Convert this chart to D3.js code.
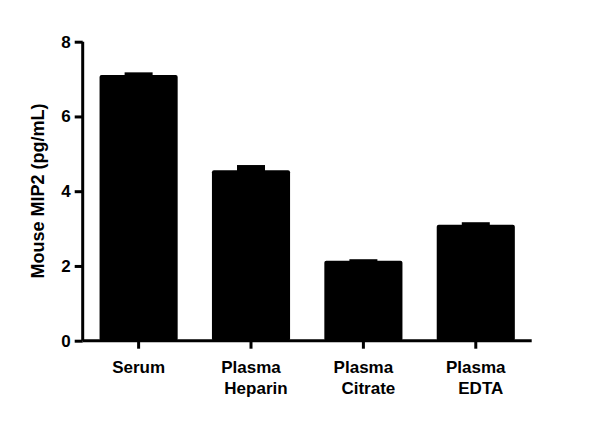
<!DOCTYPE html><html><head><script src="https://cdn.jsdelivr.net/npm/d3@7"></script>
<style>body{margin:0;background:#fff}</style></head><body><svg width="600" height="435"></svg>
<script>
const categories=[["Serum"],["Plasma","Heparin"],["Plasma","Citrate"],["Plasma","EDTA"]];
const values=[7.11,4.56,2.14,3.10];
const errors=[0.07,0.14,0.04,0.07];
const yTicks=[0,2,4,6,8];
const svg=d3.select("svg");
const x=d3.scaleBand().domain(d3.range(4)).range([82.7,531.7]).paddingInner(0.305).paddingOuter(0.15);
const y=d3.scaleLinear().domain([0,8]).range([340.7,41.7]);
const f="Arial, Liberation Sans, sans-serif";
// error caps
svg.selectAll(".err").data(values).enter().append("rect")
 .attr("x",(d,i)=>x(i)+x.bandwidth()/2-14).attr("width",28)
 .attr("y",(d,i)=>y(d+errors[i])).attr("height",(d,i)=>y(d)-y(d+errors[i])+3).attr("fill","#000");
svg.selectAll(".bar").data(values).enter().append("rect")
 .attr("x",(d,i)=>x(i)).attr("width",x.bandwidth()).attr("y",d=>y(d)).attr("height",d=>y(0)-y(d))
 .attr("rx",2).attr("fill","#000");
const ya=svg.append("g").attr("transform","translate(82.7,0)").call(d3.axisLeft(y).tickValues(yTicks).tickSize(8).tickFormat(d3.format("d")));
const xa=svg.append("g").attr("transform","translate(0,340.7)").call(d3.axisBottom(x).tickSize(8).tickFormat(""));
[ya,xa].forEach(a=>{a.select(".domain").attr("stroke","#000").attr("stroke-width",3);a.selectAll(".tick line").attr("stroke","#000").attr("stroke-width",3);});
xa.select(".domain").attr("d","M82.7,0H531.7");
ya.select(".domain").attr("d","M0,41.7V340.7");
ya.selectAll(".tick text").attr("font-family",f).attr("font-size",17).attr("font-weight","bold").attr("fill","#000").attr("x",-12);
categories.forEach((c,i)=>{
 const t=svg.append("text").attr("x",x(i)+x.bandwidth()/2).attr("y",373).attr("text-anchor","middle")
  .attr("font-family",f).attr("font-size",17).attr("font-weight","bold");
 c.forEach((l,j)=>t.append("tspan").attr("x",x(i)+x.bandwidth()/2+(j?5:0)).attr("dy",j?21:0).text(l));
});
svg.append("text").attr("transform","translate(44,191) rotate(-90)").attr("text-anchor","middle")
 .attr("font-family",f).attr("font-size",18).attr("font-weight","bold").text("Mouse MIP2 (pg/mL)");
</script></body></html>
